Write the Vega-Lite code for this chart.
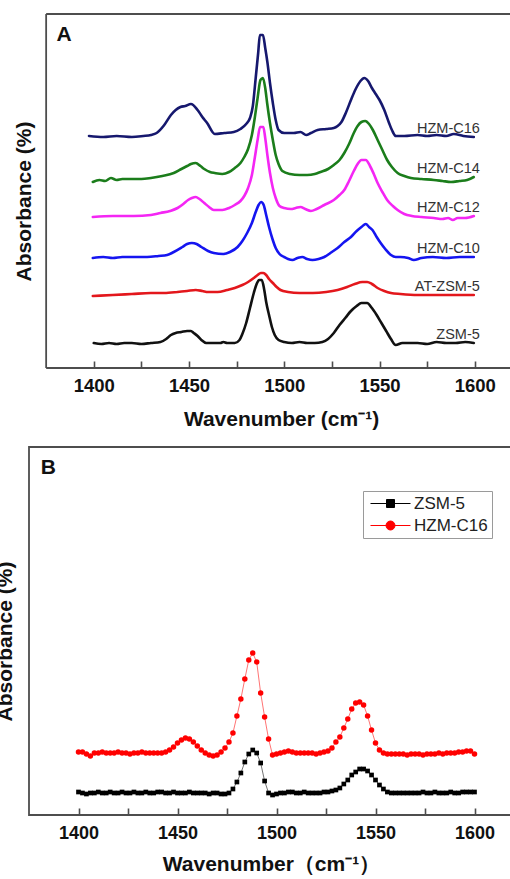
{
  "$schema": "https://vega.github.io/schema/vega-lite/v6.json",
  "background": "white",
  "padding": {"left": -7, "top": 13, "right": -14, "bottom": 0},
  "spacing": 17,
  "config": {
    "font": "Liberation Sans",
    "view": {"stroke": null},
    "axis": {"labelFont": "Liberation Sans", "titleFont": "Liberation Sans", "grid": false}
  },
  "resolve": {"scale": {"color": "independent", "shape": "independent", "x": "independent", "y": "independent"}},
  "datasets": {
    "spectraA": [
      {"s":"HZM-C16","w":1397.5,"v":2.32},{"s":"HZM-C16","w":1405,"v":2.31},{"s":"HZM-C16","w":1412,"v":2.32},{"s":"HZM-C16","w":1420,"v":2.31},{"s":"HZM-C16","w":1426,"v":2.32},{"s":"HZM-C16","w":1430,"v":2.33},{"s":"HZM-C16","w":1433,"v":2.35},{"s":"HZM-C16","w":1437,"v":2.43},{"s":"HZM-C16","w":1440.5,"v":2.53},{"s":"HZM-C16","w":1443,"v":2.58},{"s":"HZM-C16","w":1445.5,"v":2.61},{"s":"HZM-C16","w":1448,"v":2.62},{"s":"HZM-C16","w":1451,"v":2.64},{"s":"HZM-C16","w":1454.5,"v":2.58},{"s":"HZM-C16","w":1457,"v":2.51},{"s":"HZM-C16","w":1459.5,"v":2.45},{"s":"HZM-C16","w":1463.5,"v":2.34},{"s":"HZM-C16","w":1468.5,"v":2.35},{"s":"HZM-C16","w":1473.5,"v":2.36},{"s":"HZM-C16","w":1477,"v":2.39},{"s":"HZM-C16","w":1480,"v":2.44},{"s":"HZM-C16","w":1482,"v":2.5},{"s":"HZM-C16","w":1483.5,"v":2.62},{"s":"HZM-C16","w":1485,"v":2.9},{"s":"HZM-C16","w":1486.3,"v":3.15},{"s":"HZM-C16","w":1487.2,"v":3.33},{"s":"HZM-C16","w":1488.8,"v":3.33},{"s":"HZM-C16","w":1490,"v":3.2},{"s":"HZM-C16","w":1491.2,"v":3.05},{"s":"HZM-C16","w":1492.5,"v":2.85},{"s":"HZM-C16","w":1494,"v":2.65},{"s":"HZM-C16","w":1495.5,"v":2.48},{"s":"HZM-C16","w":1497,"v":2.38},{"s":"HZM-C16","w":1500,"v":2.35},{"s":"HZM-C16","w":1505,"v":2.35},{"s":"HZM-C16","w":1508.5,"v":2.36},{"s":"HZM-C16","w":1511.5,"v":2.33},{"s":"HZM-C16","w":1514,"v":2.35},{"s":"HZM-C16","w":1517.5,"v":2.38},{"s":"HZM-C16","w":1522,"v":2.39},{"s":"HZM-C16","w":1526,"v":2.4},{"s":"HZM-C16","w":1528,"v":2.42},{"s":"HZM-C16","w":1530,"v":2.46},{"s":"HZM-C16","w":1532.5,"v":2.56},{"s":"HZM-C16","w":1535,"v":2.68},{"s":"HZM-C16","w":1537.5,"v":2.79},{"s":"HZM-C16","w":1540,"v":2.87},{"s":"HZM-C16","w":1542,"v":2.9},{"s":"HZM-C16","w":1544,"v":2.87},{"s":"HZM-C16","w":1546,"v":2.8},{"s":"HZM-C16","w":1548,"v":2.74},{"s":"HZM-C16","w":1550,"v":2.68},{"s":"HZM-C16","w":1552.5,"v":2.58},{"s":"HZM-C16","w":1555,"v":2.45},{"s":"HZM-C16","w":1557,"v":2.36},{"s":"HZM-C16","w":1558.5,"v":2.32},{"s":"HZM-C16","w":1563,"v":2.32},{"s":"HZM-C16","w":1570,"v":2.33},{"s":"HZM-C16","w":1575,"v":2.32},{"s":"HZM-C16","w":1580,"v":2.33},{"s":"HZM-C16","w":1585,"v":2.32},{"s":"HZM-C16","w":1589,"v":2.34},{"s":"HZM-C16","w":1594,"v":2.32},{"s":"HZM-C16","w":1599.5,"v":2.31},
      {"s":"HZM-C14","w":1399.5,"v":1.86},{"s":"HZM-C14","w":1403,"v":1.88},{"s":"HZM-C14","w":1406,"v":1.87},{"s":"HZM-C14","w":1409,"v":1.9},{"s":"HZM-C14","w":1412,"v":1.88},{"s":"HZM-C14","w":1415,"v":1.89},{"s":"HZM-C14","w":1420,"v":1.89},{"s":"HZM-C14","w":1425,"v":1.89},{"s":"HZM-C14","w":1430,"v":1.9},{"s":"HZM-C14","w":1436,"v":1.92},{"s":"HZM-C14","w":1442,"v":1.95},{"s":"HZM-C14","w":1446,"v":1.99},{"s":"HZM-C14","w":1449,"v":2.02},{"s":"HZM-C14","w":1451,"v":2.04},{"s":"HZM-C14","w":1453.5,"v":2.05},{"s":"HZM-C14","w":1456,"v":2.02},{"s":"HZM-C14","w":1458,"v":1.99},{"s":"HZM-C14","w":1461,"v":1.96},{"s":"HZM-C14","w":1463.5,"v":1.95},{"s":"HZM-C14","w":1467.5,"v":1.94},{"s":"HZM-C14","w":1471,"v":1.96},{"s":"HZM-C14","w":1474,"v":2.0},{"s":"HZM-C14","w":1477,"v":2.05},{"s":"HZM-C14","w":1479,"v":2.11},{"s":"HZM-C14","w":1481,"v":2.19},{"s":"HZM-C14","w":1483,"v":2.33},{"s":"HZM-C14","w":1484.5,"v":2.5},{"s":"HZM-C14","w":1486,"v":2.7},{"s":"HZM-C14","w":1487.5,"v":2.88},{"s":"HZM-C14","w":1488.8,"v":2.9},{"s":"HZM-C14","w":1490,"v":2.8},{"s":"HZM-C14","w":1491,"v":2.65},{"s":"HZM-C14","w":1492.5,"v":2.45},{"s":"HZM-C14","w":1494,"v":2.28},{"s":"HZM-C14","w":1495.5,"v":2.13},{"s":"HZM-C14","w":1497,"v":2.04},{"s":"HZM-C14","w":1499,"v":1.97},{"s":"HZM-C14","w":1503,"v":1.94},{"s":"HZM-C14","w":1508,"v":1.93},{"s":"HZM-C14","w":1512,"v":1.93},{"s":"HZM-C14","w":1516,"v":1.94},{"s":"HZM-C14","w":1519,"v":1.96},{"s":"HZM-C14","w":1523,"v":1.99},{"s":"HZM-C14","w":1526,"v":2.03},{"s":"HZM-C14","w":1529,"v":2.08},{"s":"HZM-C14","w":1531.5,"v":2.15},{"s":"HZM-C14","w":1534,"v":2.24},{"s":"HZM-C14","w":1536.5,"v":2.35},{"s":"HZM-C14","w":1538.5,"v":2.42},{"s":"HZM-C14","w":1540.5,"v":2.46},{"s":"HZM-C14","w":1542.5,"v":2.47},{"s":"HZM-C14","w":1544.5,"v":2.44},{"s":"HZM-C14","w":1546.5,"v":2.38},{"s":"HZM-C14","w":1549,"v":2.28},{"s":"HZM-C14","w":1551.5,"v":2.18},{"s":"HZM-C14","w":1554,"v":2.08},{"s":"HZM-C14","w":1556.5,"v":2.01},{"s":"HZM-C14","w":1559.5,"v":1.95},{"s":"HZM-C14","w":1563,"v":1.92},{"s":"HZM-C14","w":1566.5,"v":1.9},{"s":"HZM-C14","w":1572,"v":1.89},{"s":"HZM-C14","w":1578.5,"v":1.88},{"s":"HZM-C14","w":1583,"v":1.87},{"s":"HZM-C14","w":1587.5,"v":1.86},{"s":"HZM-C14","w":1592,"v":1.87},{"s":"HZM-C14","w":1596,"v":1.88},{"s":"HZM-C14","w":1599.5,"v":1.91},
      {"s":"HZM-C12","w":1399.5,"v":1.51},{"s":"HZM-C12","w":1410,"v":1.52},{"s":"HZM-C12","w":1421,"v":1.52},{"s":"HZM-C12","w":1430,"v":1.53},{"s":"HZM-C12","w":1435,"v":1.55},{"s":"HZM-C12","w":1440,"v":1.57},{"s":"HZM-C12","w":1444,"v":1.6},{"s":"HZM-C12","w":1447,"v":1.64},{"s":"HZM-C12","w":1449.5,"v":1.68},{"s":"HZM-C12","w":1451.5,"v":1.7},{"s":"HZM-C12","w":1453.5,"v":1.71},{"s":"HZM-C12","w":1455.5,"v":1.69},{"s":"HZM-C12","w":1458,"v":1.65},{"s":"HZM-C12","w":1460.5,"v":1.61},{"s":"HZM-C12","w":1463,"v":1.58},{"s":"HZM-C12","w":1467.5,"v":1.58},{"s":"HZM-C12","w":1471,"v":1.6},{"s":"HZM-C12","w":1474,"v":1.63},{"s":"HZM-C12","w":1477,"v":1.67},{"s":"HZM-C12","w":1479,"v":1.72},{"s":"HZM-C12","w":1481,"v":1.8},{"s":"HZM-C12","w":1483,"v":1.93},{"s":"HZM-C12","w":1484.5,"v":2.1},{"s":"HZM-C12","w":1486,"v":2.28},{"s":"HZM-C12","w":1487.3,"v":2.41},{"s":"HZM-C12","w":1489,"v":2.41},{"s":"HZM-C12","w":1490,"v":2.3},{"s":"HZM-C12","w":1491.2,"v":2.12},{"s":"HZM-C12","w":1492.5,"v":1.95},{"s":"HZM-C12","w":1494,"v":1.8},{"s":"HZM-C12","w":1495.5,"v":1.7},{"s":"HZM-C12","w":1497.5,"v":1.62},{"s":"HZM-C12","w":1500,"v":1.6},{"s":"HZM-C12","w":1503.5,"v":1.59},{"s":"HZM-C12","w":1506,"v":1.6},{"s":"HZM-C12","w":1508.5,"v":1.61},{"s":"HZM-C12","w":1511,"v":1.59},{"s":"HZM-C12","w":1514,"v":1.57},{"s":"HZM-C12","w":1517,"v":1.59},{"s":"HZM-C12","w":1521,"v":1.63},{"s":"HZM-C12","w":1526,"v":1.68},{"s":"HZM-C12","w":1529,"v":1.73},{"s":"HZM-C12","w":1531.5,"v":1.78},{"s":"HZM-C12","w":1534,"v":1.87},{"s":"HZM-C12","w":1536.5,"v":1.97},{"s":"HZM-C12","w":1538.5,"v":2.04},{"s":"HZM-C12","w":1540.5,"v":2.08},{"s":"HZM-C12","w":1542.8,"v":2.08},{"s":"HZM-C12","w":1545,"v":2.02},{"s":"HZM-C12","w":1547,"v":1.94},{"s":"HZM-C12","w":1549,"v":1.85},{"s":"HZM-C12","w":1551.5,"v":1.76},{"s":"HZM-C12","w":1554,"v":1.68},{"s":"HZM-C12","w":1557,"v":1.62},{"s":"HZM-C12","w":1559.5,"v":1.58},{"s":"HZM-C12","w":1563,"v":1.54},{"s":"HZM-C12","w":1567,"v":1.52},{"s":"HZM-C12","w":1572,"v":1.51},{"s":"HZM-C12","w":1578.5,"v":1.5},{"s":"HZM-C12","w":1583,"v":1.49},{"s":"HZM-C12","w":1586,"v":1.5},{"s":"HZM-C12","w":1588.5,"v":1.48},{"s":"HZM-C12","w":1591,"v":1.5},{"s":"HZM-C12","w":1595,"v":1.5},{"s":"HZM-C12","w":1599.5,"v":1.52},
      {"s":"HZM-C10","w":1399.5,"v":1.1},{"s":"HZM-C10","w":1405,"v":1.11},{"s":"HZM-C10","w":1410,"v":1.1},{"s":"HZM-C10","w":1415,"v":1.11},{"s":"HZM-C10","w":1421,"v":1.11},{"s":"HZM-C10","w":1428,"v":1.11},{"s":"HZM-C10","w":1434,"v":1.12},{"s":"HZM-C10","w":1438.5,"v":1.13},{"s":"HZM-C10","w":1442,"v":1.16},{"s":"HZM-C10","w":1446.5,"v":1.21},{"s":"HZM-C10","w":1449,"v":1.24},{"s":"HZM-C10","w":1451.5,"v":1.25},{"s":"HZM-C10","w":1454,"v":1.24},{"s":"HZM-C10","w":1456.5,"v":1.21},{"s":"HZM-C10","w":1460,"v":1.17},{"s":"HZM-C10","w":1463,"v":1.15},{"s":"HZM-C10","w":1468,"v":1.14},{"s":"HZM-C10","w":1471.5,"v":1.16},{"s":"HZM-C10","w":1475.5,"v":1.21},{"s":"HZM-C10","w":1478,"v":1.27},{"s":"HZM-C10","w":1480.5,"v":1.35},{"s":"HZM-C10","w":1483,"v":1.45},{"s":"HZM-C10","w":1485,"v":1.56},{"s":"HZM-C10","w":1486.5,"v":1.63},{"s":"HZM-C10","w":1487.8,"v":1.66},{"s":"HZM-C10","w":1489.2,"v":1.63},{"s":"HZM-C10","w":1490.5,"v":1.53},{"s":"HZM-C10","w":1492,"v":1.41},{"s":"HZM-C10","w":1493.8,"v":1.29},{"s":"HZM-C10","w":1495.5,"v":1.2},{"s":"HZM-C10","w":1497.5,"v":1.14},{"s":"HZM-C10","w":1500,"v":1.11},{"s":"HZM-C10","w":1502,"v":1.09},{"s":"HZM-C10","w":1504.3,"v":1.08},{"s":"HZM-C10","w":1507,"v":1.1},{"s":"HZM-C10","w":1509.5,"v":1.11},{"s":"HZM-C10","w":1512,"v":1.09},{"s":"HZM-C10","w":1514.8,"v":1.08},{"s":"HZM-C10","w":1518,"v":1.09},{"s":"HZM-C10","w":1521,"v":1.11},{"s":"HZM-C10","w":1525,"v":1.16},{"s":"HZM-C10","w":1528,"v":1.2},{"s":"HZM-C10","w":1531.5,"v":1.26},{"s":"HZM-C10","w":1535,"v":1.31},{"s":"HZM-C10","w":1538,"v":1.37},{"s":"HZM-C10","w":1540.5,"v":1.41},{"s":"HZM-C10","w":1542.8,"v":1.44},{"s":"HZM-C10","w":1544.5,"v":1.41},{"s":"HZM-C10","w":1546.3,"v":1.38},{"s":"HZM-C10","w":1548.5,"v":1.31},{"s":"HZM-C10","w":1550.6,"v":1.25},{"s":"HZM-C10","w":1553,"v":1.19},{"s":"HZM-C10","w":1556,"v":1.13},{"s":"HZM-C10","w":1558.5,"v":1.11},{"s":"HZM-C10","w":1561,"v":1.11},{"s":"HZM-C10","w":1565,"v":1.1},{"s":"HZM-C10","w":1568,"v":1.08},{"s":"HZM-C10","w":1572,"v":1.1},{"s":"HZM-C10","w":1578,"v":1.11},{"s":"HZM-C10","w":1585,"v":1.1},{"s":"HZM-C10","w":1592,"v":1.11},{"s":"HZM-C10","w":1599.5,"v":1.11},
      {"s":"AT-ZSM-5","w":1399.5,"v":0.72},{"s":"AT-ZSM-5","w":1410,"v":0.73},{"s":"AT-ZSM-5","w":1420,"v":0.74},{"s":"AT-ZSM-5","w":1430,"v":0.75},{"s":"AT-ZSM-5","w":1437,"v":0.75},{"s":"AT-ZSM-5","w":1444,"v":0.76},{"s":"AT-ZSM-5","w":1449,"v":0.77},{"s":"AT-ZSM-5","w":1453.5,"v":0.78},{"s":"AT-ZSM-5","w":1457,"v":0.77},{"s":"AT-ZSM-5","w":1460,"v":0.76},{"s":"AT-ZSM-5","w":1465,"v":0.76},{"s":"AT-ZSM-5","w":1470,"v":0.78},{"s":"AT-ZSM-5","w":1474,"v":0.8},{"s":"AT-ZSM-5","w":1478,"v":0.83},{"s":"AT-ZSM-5","w":1481,"v":0.86},{"s":"AT-ZSM-5","w":1484,"v":0.9},{"s":"AT-ZSM-5","w":1486,"v":0.93},{"s":"AT-ZSM-5","w":1487.7,"v":0.95},{"s":"AT-ZSM-5","w":1489,"v":0.95},{"s":"AT-ZSM-5","w":1490.5,"v":0.93},{"s":"AT-ZSM-5","w":1492,"v":0.89},{"s":"AT-ZSM-5","w":1494,"v":0.85},{"s":"AT-ZSM-5","w":1496,"v":0.81},{"s":"AT-ZSM-5","w":1498,"v":0.78},{"s":"AT-ZSM-5","w":1502,"v":0.76},{"s":"AT-ZSM-5","w":1508,"v":0.75},{"s":"AT-ZSM-5","w":1515,"v":0.75},{"s":"AT-ZSM-5","w":1522,"v":0.76},{"s":"AT-ZSM-5","w":1528,"v":0.78},{"s":"AT-ZSM-5","w":1533,"v":0.81},{"s":"AT-ZSM-5","w":1537,"v":0.84},{"s":"AT-ZSM-5","w":1541,"v":0.86},{"s":"AT-ZSM-5","w":1543.5,"v":0.86},{"s":"AT-ZSM-5","w":1546,"v":0.84},{"s":"AT-ZSM-5","w":1549,"v":0.8},{"s":"AT-ZSM-5","w":1552.5,"v":0.77},{"s":"AT-ZSM-5","w":1556,"v":0.75},{"s":"AT-ZSM-5","w":1561,"v":0.74},{"s":"AT-ZSM-5","w":1570,"v":0.73},{"s":"AT-ZSM-5","w":1580,"v":0.73},{"s":"AT-ZSM-5","w":1590,"v":0.73},{"s":"AT-ZSM-5","w":1599.5,"v":0.73},
      {"s":"ZSM-5","w":1400,"v":0.25},{"s":"ZSM-5","w":1404,"v":0.24},{"s":"ZSM-5","w":1408,"v":0.25},{"s":"ZSM-5","w":1412,"v":0.24},{"s":"ZSM-5","w":1416,"v":0.25},{"s":"ZSM-5","w":1420,"v":0.25},{"s":"ZSM-5","w":1425,"v":0.24},{"s":"ZSM-5","w":1430,"v":0.25},{"s":"ZSM-5","w":1435,"v":0.26},{"s":"ZSM-5","w":1438,"v":0.29},{"s":"ZSM-5","w":1440.5,"v":0.33},{"s":"ZSM-5","w":1443,"v":0.35},{"s":"ZSM-5","w":1446,"v":0.36},{"s":"ZSM-5","w":1449,"v":0.37},{"s":"ZSM-5","w":1451,"v":0.37},{"s":"ZSM-5","w":1452.5,"v":0.35},{"s":"ZSM-5","w":1454.5,"v":0.32},{"s":"ZSM-5","w":1456.5,"v":0.28},{"s":"ZSM-5","w":1459,"v":0.25},{"s":"ZSM-5","w":1463,"v":0.25},{"s":"ZSM-5","w":1466.5,"v":0.25},{"s":"ZSM-5","w":1468,"v":0.26},{"s":"ZSM-5","w":1470,"v":0.25},{"s":"ZSM-5","w":1474,"v":0.25},{"s":"ZSM-5","w":1476.5,"v":0.28},{"s":"ZSM-5","w":1478,"v":0.34},{"s":"ZSM-5","w":1480,"v":0.45},{"s":"ZSM-5","w":1482,"v":0.6},{"s":"ZSM-5","w":1484,"v":0.75},{"s":"ZSM-5","w":1485.5,"v":0.84},{"s":"ZSM-5","w":1486.8,"v":0.88},{"s":"ZSM-5","w":1488.2,"v":0.88},{"s":"ZSM-5","w":1489.5,"v":0.78},{"s":"ZSM-5","w":1490.5,"v":0.66},{"s":"ZSM-5","w":1492,"v":0.53},{"s":"ZSM-5","w":1493.5,"v":0.41},{"s":"ZSM-5","w":1495,"v":0.33},{"s":"ZSM-5","w":1497,"v":0.28},{"s":"ZSM-5","w":1500,"v":0.26},{"s":"ZSM-5","w":1504,"v":0.25},{"s":"ZSM-5","w":1508,"v":0.26},{"s":"ZSM-5","w":1512,"v":0.25},{"s":"ZSM-5","w":1516,"v":0.25},{"s":"ZSM-5","w":1520,"v":0.26},{"s":"ZSM-5","w":1523,"v":0.29},{"s":"ZSM-5","w":1526,"v":0.35},{"s":"ZSM-5","w":1529,"v":0.43},{"s":"ZSM-5","w":1532,"v":0.5},{"s":"ZSM-5","w":1535,"v":0.57},{"s":"ZSM-5","w":1538,"v":0.62},{"s":"ZSM-5","w":1540.5,"v":0.65},{"s":"ZSM-5","w":1543.5,"v":0.65},{"s":"ZSM-5","w":1546,"v":0.6},{"s":"ZSM-5","w":1548.5,"v":0.53},{"s":"ZSM-5","w":1551,"v":0.45},{"s":"ZSM-5","w":1553.5,"v":0.37},{"s":"ZSM-5","w":1556,"v":0.29},{"s":"ZSM-5","w":1558.5,"v":0.23},{"s":"ZSM-5","w":1562,"v":0.25},{"s":"ZSM-5","w":1566,"v":0.25},{"s":"ZSM-5","w":1570,"v":0.25},{"s":"ZSM-5","w":1575,"v":0.24},{"s":"ZSM-5","w":1580,"v":0.26},{"s":"ZSM-5","w":1585,"v":0.25},{"s":"ZSM-5","w":1590,"v":0.25},{"s":"ZSM-5","w":1595,"v":0.26},{"s":"ZSM-5","w":1599.5,"v":0.25}
    ],
    "spectraB": [
      {"s":"ZSM-5","w":1400,"v":0.23},{"s":"ZSM-5","w":1402,"v":0.22},{"s":"ZSM-5","w":1404,"v":0.21},{"s":"ZSM-5","w":1406,"v":0.22},{"s":"ZSM-5","w":1408,"v":0.22},{"s":"ZSM-5","w":1410,"v":0.23},{"s":"ZSM-5","w":1412,"v":0.22},{"s":"ZSM-5","w":1414,"v":0.22},{"s":"ZSM-5","w":1416,"v":0.23},{"s":"ZSM-5","w":1418,"v":0.22},{"s":"ZSM-5","w":1420,"v":0.22},{"s":"ZSM-5","w":1422,"v":0.23},{"s":"ZSM-5","w":1424,"v":0.22},{"s":"ZSM-5","w":1426,"v":0.22},{"s":"ZSM-5","w":1428,"v":0.23},{"s":"ZSM-5","w":1430,"v":0.22},{"s":"ZSM-5","w":1432,"v":0.22},{"s":"ZSM-5","w":1434,"v":0.23},{"s":"ZSM-5","w":1436,"v":0.22},{"s":"ZSM-5","w":1438,"v":0.22},{"s":"ZSM-5","w":1440,"v":0.23},{"s":"ZSM-5","w":1442,"v":0.23},{"s":"ZSM-5","w":1444,"v":0.22},{"s":"ZSM-5","w":1446,"v":0.22},{"s":"ZSM-5","w":1448,"v":0.23},{"s":"ZSM-5","w":1450,"v":0.22},{"s":"ZSM-5","w":1452,"v":0.22},{"s":"ZSM-5","w":1454,"v":0.22},{"s":"ZSM-5","w":1456,"v":0.23},{"s":"ZSM-5","w":1458,"v":0.22},{"s":"ZSM-5","w":1460,"v":0.22},{"s":"ZSM-5","w":1462,"v":0.22},{"s":"ZSM-5","w":1464,"v":0.22},{"s":"ZSM-5","w":1466,"v":0.21},{"s":"ZSM-5","w":1468,"v":0.22},{"s":"ZSM-5","w":1470,"v":0.22},{"s":"ZSM-5","w":1472,"v":0.21},{"s":"ZSM-5","w":1474,"v":0.21},{"s":"ZSM-5","w":1476,"v":0.22},{"s":"ZSM-5","w":1478,"v":0.26},{"s":"ZSM-5","w":1480,"v":0.33},{"s":"ZSM-5","w":1482,"v":0.42},{"s":"ZSM-5","w":1484,"v":0.53},{"s":"ZSM-5","w":1486,"v":0.61},{"s":"ZSM-5","w":1488,"v":0.65},{"s":"ZSM-5","w":1490,"v":0.62},{"s":"ZSM-5","w":1492,"v":0.52},{"s":"ZSM-5","w":1494,"v":0.34},{"s":"ZSM-5","w":1496,"v":0.22},{"s":"ZSM-5","w":1498,"v":0.2},{"s":"ZSM-5","w":1500,"v":0.21},{"s":"ZSM-5","w":1502,"v":0.22},{"s":"ZSM-5","w":1504,"v":0.22},{"s":"ZSM-5","w":1506,"v":0.23},{"s":"ZSM-5","w":1508,"v":0.23},{"s":"ZSM-5","w":1510,"v":0.22},{"s":"ZSM-5","w":1512,"v":0.22},{"s":"ZSM-5","w":1514,"v":0.23},{"s":"ZSM-5","w":1516,"v":0.22},{"s":"ZSM-5","w":1518,"v":0.22},{"s":"ZSM-5","w":1520,"v":0.22},{"s":"ZSM-5","w":1522,"v":0.22},{"s":"ZSM-5","w":1524,"v":0.23},{"s":"ZSM-5","w":1526,"v":0.23},{"s":"ZSM-5","w":1528,"v":0.24},{"s":"ZSM-5","w":1530,"v":0.25},{"s":"ZSM-5","w":1532,"v":0.27},{"s":"ZSM-5","w":1534,"v":0.31},{"s":"ZSM-5","w":1536,"v":0.35},{"s":"ZSM-5","w":1538,"v":0.4},{"s":"ZSM-5","w":1540,"v":0.43},{"s":"ZSM-5","w":1542,"v":0.46},{"s":"ZSM-5","w":1544,"v":0.46},{"s":"ZSM-5","w":1546,"v":0.44},{"s":"ZSM-5","w":1548,"v":0.4},{"s":"ZSM-5","w":1550,"v":0.35},{"s":"ZSM-5","w":1552,"v":0.3},{"s":"ZSM-5","w":1554,"v":0.26},{"s":"ZSM-5","w":1556,"v":0.23},{"s":"ZSM-5","w":1558,"v":0.22},{"s":"ZSM-5","w":1560,"v":0.22},{"s":"ZSM-5","w":1562,"v":0.22},{"s":"ZSM-5","w":1564,"v":0.22},{"s":"ZSM-5","w":1566,"v":0.22},{"s":"ZSM-5","w":1568,"v":0.22},{"s":"ZSM-5","w":1570,"v":0.22},{"s":"ZSM-5","w":1572,"v":0.22},{"s":"ZSM-5","w":1574,"v":0.23},{"s":"ZSM-5","w":1576,"v":0.22},{"s":"ZSM-5","w":1578,"v":0.22},{"s":"ZSM-5","w":1580,"v":0.23},{"s":"ZSM-5","w":1582,"v":0.22},{"s":"ZSM-5","w":1584,"v":0.22},{"s":"ZSM-5","w":1586,"v":0.22},{"s":"ZSM-5","w":1588,"v":0.23},{"s":"ZSM-5","w":1590,"v":0.22},{"s":"ZSM-5","w":1592,"v":0.22},{"s":"ZSM-5","w":1594,"v":0.23},{"s":"ZSM-5","w":1596,"v":0.23},{"s":"ZSM-5","w":1598,"v":0.23},{"s":"ZSM-5","w":1600,"v":0.23},
      {"s":"HZM-C16","w":1400,"v":0.63},{"s":"HZM-C16","w":1402,"v":0.63},{"s":"HZM-C16","w":1404,"v":0.61},{"s":"HZM-C16","w":1406,"v":0.59},{"s":"HZM-C16","w":1408,"v":0.62},{"s":"HZM-C16","w":1410,"v":0.62},{"s":"HZM-C16","w":1412,"v":0.63},{"s":"HZM-C16","w":1414,"v":0.62},{"s":"HZM-C16","w":1416,"v":0.62},{"s":"HZM-C16","w":1418,"v":0.62},{"s":"HZM-C16","w":1420,"v":0.63},{"s":"HZM-C16","w":1422,"v":0.62},{"s":"HZM-C16","w":1424,"v":0.62},{"s":"HZM-C16","w":1426,"v":0.61},{"s":"HZM-C16","w":1428,"v":0.62},{"s":"HZM-C16","w":1430,"v":0.62},{"s":"HZM-C16","w":1432,"v":0.63},{"s":"HZM-C16","w":1434,"v":0.62},{"s":"HZM-C16","w":1436,"v":0.62},{"s":"HZM-C16","w":1438,"v":0.62},{"s":"HZM-C16","w":1440,"v":0.62},{"s":"HZM-C16","w":1442,"v":0.62},{"s":"HZM-C16","w":1444,"v":0.63},{"s":"HZM-C16","w":1446,"v":0.65},{"s":"HZM-C16","w":1448,"v":0.68},{"s":"HZM-C16","w":1450,"v":0.72},{"s":"HZM-C16","w":1452,"v":0.75},{"s":"HZM-C16","w":1454,"v":0.77},{"s":"HZM-C16","w":1456,"v":0.76},{"s":"HZM-C16","w":1458,"v":0.73},{"s":"HZM-C16","w":1460,"v":0.69},{"s":"HZM-C16","w":1462,"v":0.65},{"s":"HZM-C16","w":1464,"v":0.62},{"s":"HZM-C16","w":1466,"v":0.6},{"s":"HZM-C16","w":1468,"v":0.59},{"s":"HZM-C16","w":1470,"v":0.6},{"s":"HZM-C16","w":1472,"v":0.63},{"s":"HZM-C16","w":1474,"v":0.67},{"s":"HZM-C16","w":1476,"v":0.73},{"s":"HZM-C16","w":1478,"v":0.82},{"s":"HZM-C16","w":1480,"v":0.99},{"s":"HZM-C16","w":1482,"v":1.16},{"s":"HZM-C16","w":1484,"v":1.36},{"s":"HZM-C16","w":1486,"v":1.55},{"s":"HZM-C16","w":1488,"v":1.62},{"s":"HZM-C16","w":1490,"v":1.53},{"s":"HZM-C16","w":1492,"v":1.22},{"s":"HZM-C16","w":1494,"v":0.98},{"s":"HZM-C16","w":1496,"v":0.76},{"s":"HZM-C16","w":1498,"v":0.6},{"s":"HZM-C16","w":1500,"v":0.61},{"s":"HZM-C16","w":1502,"v":0.62},{"s":"HZM-C16","w":1504,"v":0.63},{"s":"HZM-C16","w":1506,"v":0.64},{"s":"HZM-C16","w":1508,"v":0.63},{"s":"HZM-C16","w":1510,"v":0.62},{"s":"HZM-C16","w":1512,"v":0.62},{"s":"HZM-C16","w":1514,"v":0.62},{"s":"HZM-C16","w":1516,"v":0.62},{"s":"HZM-C16","w":1518,"v":0.62},{"s":"HZM-C16","w":1520,"v":0.61},{"s":"HZM-C16","w":1522,"v":0.62},{"s":"HZM-C16","w":1524,"v":0.63},{"s":"HZM-C16","w":1526,"v":0.64},{"s":"HZM-C16","w":1528,"v":0.67},{"s":"HZM-C16","w":1530,"v":0.73},{"s":"HZM-C16","w":1532,"v":0.78},{"s":"HZM-C16","w":1534,"v":0.87},{"s":"HZM-C16","w":1536,"v":0.96},{"s":"HZM-C16","w":1538,"v":1.06},{"s":"HZM-C16","w":1540,"v":1.12},{"s":"HZM-C16","w":1542,"v":1.13},{"s":"HZM-C16","w":1544,"v":1.1},{"s":"HZM-C16","w":1546,"v":0.99},{"s":"HZM-C16","w":1548,"v":0.85},{"s":"HZM-C16","w":1550,"v":0.72},{"s":"HZM-C16","w":1552,"v":0.65},{"s":"HZM-C16","w":1554,"v":0.62},{"s":"HZM-C16","w":1556,"v":0.61},{"s":"HZM-C16","w":1558,"v":0.61},{"s":"HZM-C16","w":1560,"v":0.61},{"s":"HZM-C16","w":1562,"v":0.61},{"s":"HZM-C16","w":1564,"v":0.61},{"s":"HZM-C16","w":1566,"v":0.6},{"s":"HZM-C16","w":1568,"v":0.61},{"s":"HZM-C16","w":1570,"v":0.61},{"s":"HZM-C16","w":1572,"v":0.61},{"s":"HZM-C16","w":1574,"v":0.6},{"s":"HZM-C16","w":1576,"v":0.61},{"s":"HZM-C16","w":1578,"v":0.61},{"s":"HZM-C16","w":1580,"v":0.61},{"s":"HZM-C16","w":1582,"v":0.62},{"s":"HZM-C16","w":1584,"v":0.61},{"s":"HZM-C16","w":1586,"v":0.62},{"s":"HZM-C16","w":1588,"v":0.62},{"s":"HZM-C16","w":1590,"v":0.62},{"s":"HZM-C16","w":1592,"v":0.63},{"s":"HZM-C16","w":1594,"v":0.63},{"s":"HZM-C16","w":1596,"v":0.64},{"s":"HZM-C16","w":1598,"v":0.64},{"s":"HZM-C16","w":1600,"v":0.61}
    ]
  },
  "vconcat": [
    {
      "width": 493.4,
      "height": 354,
      "data": {"name": "spectraA"},
      "layer": [
        {
          "data": {"values": [{}]},
          "mark": {"type": "rule", "color": "#4d4d4d", "strokeWidth": 1.8},
          "encoding": {"x": {"datum": 1375}}
        },
        {
          "data": {"values": [{}]},
          "mark": {"type": "rule", "color": "#4d4d4d", "strokeWidth": 1.8},
          "encoding": {"x": {"datum": 1375}, "x2": {"datum": 1625}, "y": {"datum": 3.54}}
        },
        {
          "data": {"values": [{}]},
          "mark": {"type": "rule", "color": "#4d4d4d", "strokeWidth": 1.8},
          "encoding": {"x": {"datum": 1375}, "x2": {"datum": 1625}, "y": {"datum": 0}}
        },
        {
          "mark": {"type": "line", "strokeWidth": 2.6, "interpolate": "monotone", "strokeCap": "round", "strokeJoin": "round"},
          "encoding": {
            "x": {
              "field": "w", "type": "quantitative",
              "scale": {"domain": [1366, 1625], "nice": false, "zero": false},
              "axis": {
                "values": [1400, 1425, 1450, 1475, 1500, 1525, 1550, 1575, 1600],
                "format": "d",
                "labelExpr": "datum.value % 50 === 0 ? datum.label : ''",
                "domain": false, "grid": false,
                "tickSize": -7, "tickColor": "#4d4d4d", "tickWidth": 1.6,
                "labelFontSize": 18.5, "labelFontWeight": "bold", "labelColor": "#111111",
                "labelBaseline": "alphabetic", "labelPadding": 30, "labelFlush": false, "labelOverlap": false,
                "title": "Wavenumber (cm⁻¹)",
                "titleFontSize": 21, "titleFontWeight": "bold", "titleColor": "#111111",
                "titleX": 252, "titleY": 57, "titleBaseline": "alphabetic", "titleAlign": "center"
              }
            },
            "y": {
              "field": "v", "type": "quantitative",
              "scale": {"domain": [0, 3.54], "nice": false, "zero": false},
              "axis": {
                "domain": false, "ticks": false, "labels": false, "grid": false,
                "title": "Absorbance (%)",
                "titleFontSize": 21, "titleFontWeight": "bold", "titleColor": "#111111",
                "titleAngle": 270, "titleX": 5, "titleY": 187, "titleBaseline": "bottom", "titleAlign": "center"
              }
            },
            "color": {
              "field": "s", "type": "nominal",
              "scale": {
                "domain": ["ZSM-5", "AT-ZSM-5", "HZM-C10", "HZM-C12", "HZM-C14", "HZM-C16"],
                "range": ["#111111", "#e3171c", "#1515f0", "#f426f4", "#1b7d1b", "#16186e"]
              },
              "legend": null
            }
          }
        },
        {
          "transform": [{"filter": "datum.w >= 1599"}],
          "mark": {"type": "text", "align": "right", "baseline": "middle", "dx": 6, "dy": -8, "fontSize": 14.5, "color": "#333333"},
          "encoding": {
            "x": {"field": "w", "type": "quantitative"},
            "y": {"field": "v", "type": "quantitative"},
            "text": {"field": "s"}
          }
        },
        {
          "data": {"values": [{}]},
          "mark": {"type": "text", "text": "A", "fontSize": 21, "fontWeight": "bold", "color": "#111111", "align": "center", "baseline": "middle"},
          "encoding": {"x": {"datum": 1384.4}, "y": {"datum": 3.33}}
        }
      ]
    },
    {
      "width": 495,
      "height": 368,
      "view": {"stroke": "#4d4d4d", "strokeWidth": 1.8},
      "data": {"name": "spectraB"},
      "layer": [
        {
          "mark": {"type": "line", "strokeWidth": 1, "strokeOpacity": 0.55},
          "encoding": {
            "x": {
              "field": "w", "type": "quantitative",
              "scale": {"domain": [1375, 1625], "nice": false, "zero": false},
              "axis": {
                "values": [1400, 1425, 1450, 1475, 1500, 1525, 1550, 1575, 1600],
                "format": "d",
                "labelExpr": "datum.value % 50 === 0 ? datum.label : ''",
                "domain": false, "grid": false,
                "tickSize": -7, "tickColor": "#4d4d4d", "tickWidth": 1.6,
                "labelFontSize": 18, "labelFontWeight": "bold", "labelColor": "#111111",
                "labelBaseline": "alphabetic", "labelPadding": 30, "labelFlush": false, "labelOverlap": false,
                "title": "Wavenumber（cm⁻¹）",
                "titleFontSize": 21, "titleFontWeight": "bold", "titleColor": "#111111",
                "titleX": 242, "titleY": 55, "titleBaseline": "alphabetic", "titleAlign": "center"
              }
            },
            "y": {
              "field": "v", "type": "quantitative",
              "scale": {"domain": [0, 3.68], "nice": false, "zero": false},
              "axis": {
                "domain": false, "ticks": false, "labels": false, "grid": false,
                "title": "Absorbance (%)",
                "titleFontSize": 21, "titleFontWeight": "bold", "titleColor": "#111111",
                "titleAngle": 270, "titleX": -14, "titleY": 194, "titleBaseline": "bottom", "titleAlign": "center"
              }
            },
            "color": {
              "field": "s", "type": "nominal",
              "scale": {"domain": ["ZSM-5", "HZM-C16"], "range": ["#000000", "#ff0000"]}
            }
          }
        },
        {
          "mark": {"type": "point", "filled": true, "opacity": 1},
          "encoding": {
            "x": {"field": "w", "type": "quantitative"},
            "y": {"field": "v", "type": "quantitative"},
            "color": {"field": "s", "type": "nominal"},
            "shape": {"condition": {"test": "datum.s === 'ZSM-5'", "value": "square"}, "value": "circle"},
            "size": {"condition": {"test": "datum.s === 'ZSM-5'", "value": 22}, "value": 30}
          }
        },
        {
          "transform": [{"filter": "datum.w === 1400"}],
          "mark": {"type": "point", "filled": true, "opacity": 0},
          "encoding": {
            "x": {"field": "w", "type": "quantitative"},
            "y": {"field": "v", "type": "quantitative"},
            "color": {"field": "s", "type": "nominal"},
            "shape": {
              "field": "s", "type": "nominal",
              "scale": {
                "domain": ["ZSM-5", "HZM-C16"],
                "range": ["M-1,0H7M2.2,-0.8H3.8V0.8H2.2Z", "M-1,0H7M3.9,0A0.9,0.9,0,1,1,2.1,0A0.9,0.9,0,1,1,3.9,0Z"]
              },
              "legend": {
                "title": null,
                "orient": "none", "legendX": 334, "legendY": 44,
                "direction": "vertical",
                "fillColor": "white", "strokeColor": "#9a9a9a",
                "padding": 4, "rowPadding": 4,
                "labelFont": "Liberation Sans", "labelFontSize": 17, "labelColor": "#222222",
                "labelOffset": 30, "symbolSize": 100, "symbolStrokeWidth": 1, "symbolOpacity": 1
              }
            }
          }
        },
        {
          "data": {"values": [{}]},
          "mark": {"type": "text", "text": "B", "fontSize": 21, "fontWeight": "bold", "color": "#111111", "align": "center", "baseline": "middle"},
          "encoding": {"x": {"datum": 1384.8}, "y": {"datum": 3.47}}
        }
      ]
    }
  ]
}
